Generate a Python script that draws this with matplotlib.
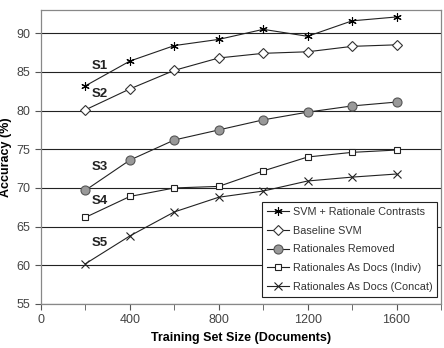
import matplotlib
matplotlib.use("Agg")
import matplotlib.pyplot as plt
from matplotlib.ticker import MultipleLocator

plt.rcParams['font.family'] = ['Liberation Sans', 'DejaVu Sans']

sizes = [200, 400, 600, 800, 1000, 1200, 1400, 1600]
svm_contrasts = [83.2, 86.4, 88.4, 89.2, 90.5, 89.6, 91.6, 92.1]
baseline_svm = [80.1, 82.8, 85.2, 86.8, 87.4, 87.6, 88.3, 88.5]
rationales_removed = [69.7, 73.6, 76.2, 77.5, 78.8, 79.8, 80.6, 81.1]
rat_docs_indiv = [66.2, 68.9, 70.0, 70.2, 72.2, 74.0, 74.6, 74.9]
rat_docs_concat = [60.2, 63.8, 66.9, 68.8, 69.6, 70.9, 71.4, 71.8]

series_labels = ['SVM + Rationale Contrasts', 'Baseline SVM', 'Rationales Removed',
                 'Rationales As Docs (Indiv)', 'Rationales As Docs (Concat)']
tags = ['S1', 'S2', 'S3', 'S4', 'S5']
tag_x = [265, 265, 265, 265, 265]
tag_y = [85.7, 82.2, 72.7, 68.3, 62.9]

fig = plt.figure(figsize=(4.44, 3.48), dpi=100)
ax = fig.add_axes([41/444, 44/348, 400/444, 294/348])

styles = [
    dict(marker=(6, 2, 0), ms=6, mfc='black', mec='black', mew=0.8),
    dict(marker='D', ms=5, mfc='white', mec='#333333', mew=0.8),
    dict(marker='o', ms=6.5, mfc='#999999', mec='#555555', mew=0.8),
    dict(marker='s', ms=5, mfc='white', mec='#222222', mew=0.8),
    dict(marker='x', ms=6, mfc='black', mec='#222222', mew=0.8),
]
data = [svm_contrasts, baseline_svm, rationales_removed, rat_docs_indiv, rat_docs_concat]
for vals, lab, st in zip(data, series_labels, styles):
    ax.plot(sizes, vals, color='#222222', lw=0.8, label=lab, **st)

for t, x, y in zip(tags, tag_x, tag_y):
    ax.text(x, y, t, fontsize=9.5, fontweight='bold', ha='center', va='center', color='#222222')

ax.set_xlim(0, 1800)
ax.set_ylim(55, 93)
ax.xaxis.set_major_locator(MultipleLocator(400))
ax.xaxis.set_minor_locator(MultipleLocator(200))
ax.yaxis.set_major_locator(MultipleLocator(5))
ax.yaxis.grid(True, color='#222222', lw=0.8)
ax.set_axisbelow(True)
for s in ax.spines.values():
    s.set_color('#888888')
    s.set_linewidth(0.9)
ax.tick_params(axis='both', which='both', direction='out', length=4, color='#555555',
               labelsize=9, labelcolor='#444444')
ax.tick_params(axis='x', which='minor', length=4)
ax.set_xlabel('Training Set Size (Documents)', fontsize=9, fontweight='bold', labelpad=4)
ax.set_ylabel('Accuracy (%)', fontsize=9, fontweight='bold', labelpad=3)

leg = ax.legend(loc='lower right', bbox_to_anchor=(0.99, 0.025), fontsize=7.8,
                frameon=True, fancybox=False, framealpha=1, edgecolor='#222222',
                handlelength=2.0, borderpad=0.45, labelspacing=0.8, handletextpad=0.35,
                borderaxespad=0.0)
leg.get_frame().set_linewidth(0.8)
for t in leg.get_texts():
    t.set_color('#333333')

fig.savefig('out.png', dpi=100)
